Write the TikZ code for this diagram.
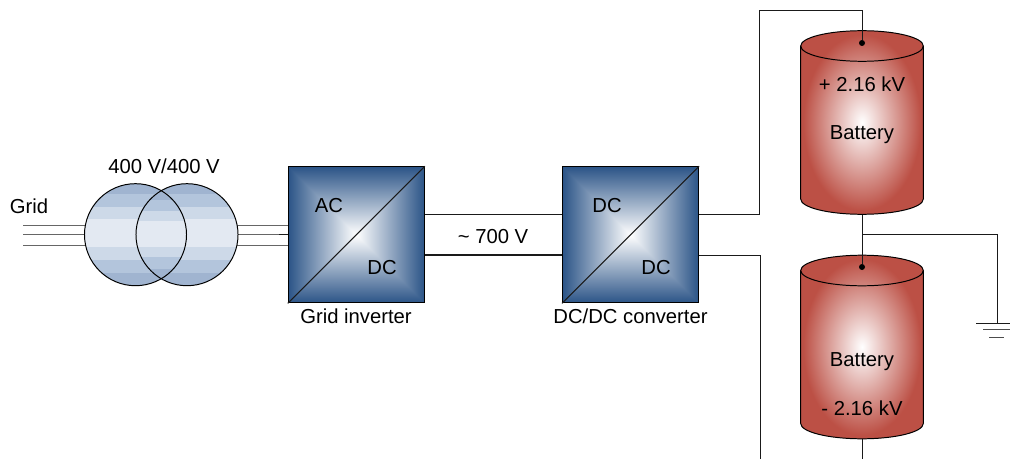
\documentclass[tikz,border=0pt]{standalone}
\usepackage{fontspec}
\setmainfont{Liberation Sans}
\definecolor{bandA}{HTML}{A0B4D0}
\definecolor{bandB}{HTML}{B3C5DC}
\definecolor{bandC}{HTML}{CDD9E8}
\definecolor{bandD}{HTML}{E3E9F2}
\definecolor{wireInk}{HTML}{1A1A1A}
\definecolor{batRed}{HTML}{BC5045}
\pgfdeclarefunctionalshading{boxglow}{\pgfpoint{-50bp}{-50bp}}{\pgfpoint{50bp}{50bp}}{}{
  abs exch abs 2 copy lt {exch} if pop 25 div dup 1 gt {pop 1} if
  dup 0.83 mul 1 exch sub exch dup 0.67 mul 1 exch sub exch 0.47 mul 1 exch sub
}
\pgfdeclareradialshading{batglow}{\pgfpointorigin}{color(0bp)=(white); color(24bp)=(batRed); color(50bp)=(batRed)}

\begin{document}
\begin{tikzpicture}[x=0.025cm,y=-0.025cm,font=\fontsize{14.4}{16}\selectfont,
  wire/.style={draw=wireInk, line width=0.7pt},
  coil/.style={circle, draw=black, line width=0.7pt, minimum size=2.55cm, inner sep=0pt},
  conv/.style={rectangle, draw=black, line width=0.8pt, shading=boxglow, minimum size=3.4cm, inner sep=0pt},
  battery/.style={rectangle, minimum height=4.59cm, minimum width=3.07cm, inner sep=0pt},
  tap/.style={circle, fill=black, minimum size=1.5mm, inner sep=0pt},
  lab/.style={inner sep=0pt, text=black},
]
\useasboundingbox (0,0) rectangle (1010,459);
\def\lcx{135.5}\def\rcx{187}\def\cy{234.7}
% ---- free line ends ----
\coordinate (gridA) at (23,225);
\coordinate (gridB) at (23,234.7);
\coordinate (gridC) at (23,245);
\coordinate (outP) at (760,459);
\coordinate (outN) at (862,459);
% ---- grid lines ----
\foreach \n/\yy in {gridA/225,gridB/234.7,gridC/245}{
  \draw[draw=black!60, line width=0.7pt] (\n) -- (288,\yy);
}
\draw[wire] (279,234.7) -- (288,234.7);
% ---- transformer bands ----
\foreach \cx in {\lcx,\rcx}{
  \begin{scope}
    \clip (\cx,\cy) circle [radius=51];
    \foreach \ya/\yb/\col in {183/194.2/bandA,194/206.9/bandB,206.7/219.5/bandC,219.3/246.9/bandD,246.7/260.2/bandC,260/272.9/bandB,272.7/286.5/bandA}{
      \fill[\col] (\cx-52,\ya) rectangle (\cx+52,\yb);
    }
  \end{scope}
}
\begin{scope}
  \clip (\lcx,\cy) circle [radius=51];
  \clip (\rcx,\cy) circle [radius=51];
  \foreach \ya/\yb/\col in {183/200.2/bandA,200/210.9/bandB,210.7/220.9/bandC,220.7/246.9/bandD,246.7/256.9/bandC,256.7/268.9/bandB,268.7/286.5/bandA}{
    \fill[\col] (\lcx,\ya) rectangle (\rcx,\yb);
  }
\end{scope}
\node[coil] (xfL) at (\lcx,\cy) {};
\node[coil] (xfR) at (\rcx,\cy) {};
\node[lab] (xfLabel) at (164,166) {400 V/400 V};
\node[lab] (gridLabel) at (29,206) {Grid};
% ---- converters ----
\node[conv] (inv) at (356.3,234.8) {};
\node[conv] (dcdc) at (630.5,234.8) {};
\draw[wire] (inv.south west) -- (inv.north east);
\draw[wire] (dcdc.south west) -- (dcdc.north east);
\node[lab] (invAC) at (329,206) {AC};
\node[lab] (invDC) at (382,268) {DC};
\node[lab] (dcA) at (607,206) {DC};
\node[lab] (dcB) at (656,268) {DC};
\node[lab] (invLabel) at (356,316) {Grid inverter};
\node[lab] (dcdcLabel) at (630.5,316) {DC/DC converter};
\node[lab] (linkLabel) at (493,237) {\textasciitilde{} 700 V};
% ---- batteries ----
\node[battery] (batA) at (862,122.5) {};
\node[battery] (batB) at (862,347) {};
\foreach \b in {batA,batB}{
  \begin{scope}[shift={(\b.center)}]
    \path[draw=black, line width=0.7pt, shading=batglow] (-61.3,-76.5) -- (-61.3,76.5)
      arc [start angle=180, end angle=0, x radius=61.3, y radius=15.3] -- (61.3,-76.5)
      arc [start angle=0, end angle=-180, x radius=61.3, y radius=15.3] -- cycle;
    \draw[black, line width=0.7pt] (-61.3,-76.5) arc [start angle=180, end angle=0, x radius=61.3, y radius=15.3];
  \end{scope}
}
\node[tap] (tapA) at (862,43) {};
\node[tap] (tapB) at (862,267) {};
\node[lab] (batAv) at (862,84) {+ 2.16 kV};
\node[lab] (batAn) at (862,135) {Battery};
\node[lab] (batBn) at (862,362) {Battery};
\node[lab] (batBv) at (862,408) {- 2.16 kV};
% ---- dc link ----
\draw[wire] (inv.east |- 0,214) -- (dcdc.west |- 0,214);
\draw[wire, line width=1pt] (inv.east |- 0,255) -- (dcdc.west |- 0,255);
% ---- battery wiring ----
\draw[wire] (dcdc.east |- 0,214) -- (759,214) -- (759,10) -- (862,10) -- (tapA);
\draw[wire] (dcdc.east |- 0,255) -- (760,255) -- (outP);
\draw[wire] (batA.south) -- (tapB);
\draw[wire] (batB.south) -- (outN);
% ---- ground ----
\coordinate (gndTee) at (862,234.7);
\coordinate (gndTop) at (997,323);
\draw[wire] (gndTee) -| (gndTop);
\draw[wire] (976,323) -- (1010,323);
\draw[wire, black!70] (983,329.5) -- (1010,329.5);
\draw[wire, black!70] (989,337) -- (1004,337);
\end{tikzpicture}
\end{document}
